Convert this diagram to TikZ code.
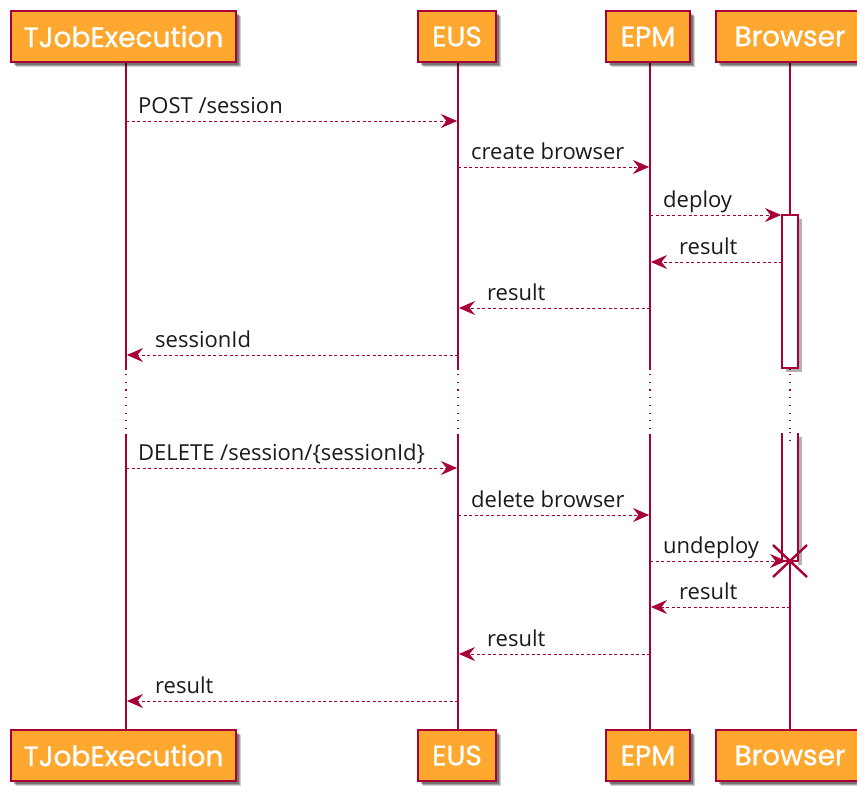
\documentclass[tikz,border=0pt]{standalone}
\usepackage{fontspec}
\setmainfont{Open Sans}
\newfontfamily\headfont[FakeBold=0.9]{Poppins}
\usetikzlibrary{arrows.meta,calc}
\definecolor{partfill}{HTML}{FEA830}
\definecolor{crim}{HTML}{A80036}
\definecolor{msgtext}{HTML}{1A1A1A}
\tikzset{
  x=1pt, y=-1pt,
  partbox/.style={draw=crim, line width=1.3pt, fill=partfill},
  parttext/.style={text=white, font=\headfont\fontsize{28}{32}\selectfont, inner sep=0pt},
  life/.style={draw=crim, line width=1.2pt},
  lifedots/.style={draw=crim, line width=1.2pt, dash pattern=on 1.2pt off 6.5pt},
  msg/.style={draw=crim, line width=0.9pt, dash pattern=on 3pt off 2.5pt,
    -{Stealth[length=16pt, width=14pt, inset=5.5pt]}},
  msglabel/.style={anchor=base west, inner sep=0pt, text=msgtext,
    font=\fontsize{22}{26}\selectfont},
  actbox/.style={draw=crim, line width=1.2pt, fill=white},
  killmark/.style={draw=crim, line width=2.4pt},
}
% participant box with soft drop shadow: #1 name, #2 left, #3 right, #4 top, #5 bottom, #6 text
\newcommand\partbox[6]{%
  \foreach \d/\o in {5/0.18, 4/0.22, 3/0.28}{
    \fill[black, opacity=\o] (#2+\d,#4+\d) rectangle (#3+\d,#5+\d);
  }
  \path[partbox] (#2,#4) rectangle (#3,#5);
  \node[parttext] (#1) at ({(#2+#3)/2},{(#4+#5)/2}) {#6};
}
\begin{document}
\begin{tikzpicture}
\useasboundingbox (0,0) rectangle (857,785);
\fill[white] (0,0) rectangle (857,785);

% lifeline positions
\coordinate (tj) at (126,0);
\coordinate (eu) at (458,0);
\coordinate (ep) at (650,0);
\coordinate (br) at (790,0);

% lifelines: solid, dotted gap, solid
\foreach \xx in {126,458,650,790}{
  \draw[life] (\xx,62) -- (\xx,370);
  \draw[lifedots] (\xx,374) -- (\xx,432);
  \draw[life] (\xx,434) -- (\xx,730);
}

% participant heads and feet
\partbox{tjTop}{11}{236}{11}{62}{TJobExecution}
\partbox{euTop}{418}{496}{11}{62}{EUS}
\partbox{epTop}{606}{690}{11}{62}{EPM}
\partbox{brTop}{716}{864}{11}{62}{Browser}
\partbox{tjBot}{11}{236}{730}{781}{TJobExecution}
\partbox{euBot}{418}{496}{730}{781}{EUS}
\partbox{epBot}{606}{690}{730}{781}{EPM}
\partbox{brBot}{716}{864}{730}{781}{Browser}

% activations of Browser
\fill[black, opacity=0.3] (786,219) rectangle (802,372);
\path[actbox] (782,215) rectangle (798,368);
\fill[black, opacity=0.3] (798,437) rectangle (802,565);
\fill[white] (782,433) rectangle (798,561);
\draw[crim, line width=1.2pt] (782,433) -- (782,561) -- (798,561) -- (798,433);
\draw[lifedots] (790,432) -- (790,445);

% message end points
\coordinate (m1a) at (126,121);  \coordinate (m1b) at (457,121);
\coordinate (m2a) at (458,167);  \coordinate (m2b) at (649,167);
\coordinate (m3a) at (650,215);  \coordinate (m3b) at (781,215);
\coordinate (m4a) at (782,262);  \coordinate (m4b) at (651,262);
\coordinate (m5a) at (650,308);  \coordinate (m5b) at (459,308);
\coordinate (m6a) at (458,355);  \coordinate (m6b) at (127,355);
\coordinate (m7a) at (126,468);  \coordinate (m7b) at (457,468);
\coordinate (m8a) at (458,515);  \coordinate (m8b) at (649,515);
\coordinate (m9a) at (650,561);  \coordinate (m9b) at (786,561);
\coordinate (m10a) at (790,607); \coordinate (m10b) at (651,607);
\coordinate (m11a) at (650,654); \coordinate (m11b) at (459,654);
\coordinate (m12a) at (458,701); \coordinate (m12b) at (127,701);

\draw[msg] (m1a) -- (m1b);   \node[msglabel] at (138,113) {POST /session};
\draw[msg] (m2a) -- (m2b);   \node[msglabel] at (471,159) {create browser};
\draw[msg] (m3a) -- (m3b);   \node[msglabel] at (663,207) {deploy};
\draw[msg] (m4a) -- (m4b);   \node[msglabel] at (679,254) {result};
\draw[msg] (m5a) -- (m5b);   \node[msglabel] at (487,300) {result};
\draw[msg] (m6a) -- (m6b);   \node[msglabel] at (155,347) {sessionId};
\draw[msg] (m7a) -- (m7b);   \node[msglabel] at (138,460) {DELETE /session/\{sessionId\}};
\draw[msg] (m8a) -- (m8b);   \node[msglabel] at (471,507) {delete browser};
\draw[msg] (m9a) -- (m9b);   \node[msglabel] at (663,553) {undeploy};
\draw[msg] (m10a) -- (m10b); \node[msglabel] at (679,599) {result};
\draw[msg] (m11a) -- (m11b); \node[msglabel] at (487,646) {result};
\draw[msg] (m12a) -- (m12b); \node[msglabel] at (155,693) {result};

% destruction mark
\coordinate (kill) at (790,561);
\draw[killmark] ($(kill)+(-17,-16)$) -- ($(kill)+(17,16)$);
\draw[killmark] ($(kill)+(-17,16)$) -- ($(kill)+(17,-16)$);
\end{tikzpicture}
\end{document}
